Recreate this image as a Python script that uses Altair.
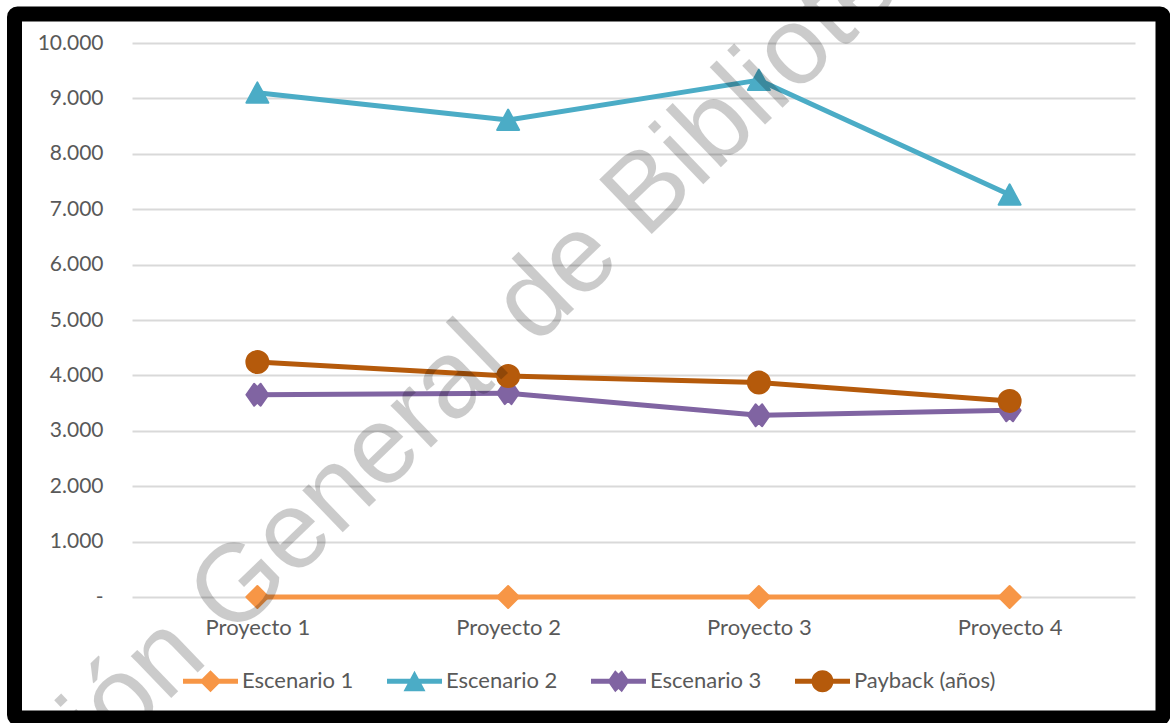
import altair as alt
import pandas as pd

# ---- data ----
projects = ["Proyecto 1", "Proyecto 2", "Proyecto 3", "Proyecto 4"]
series_names = ["Escenario 1", "Escenario 2", "Escenario 3", "Payback (años)"]
escenario_1 = [0, 0, 0, 0]
escenario_2 = [9100, 8610, 9330, 7260]
escenario_3 = [3650, 3680, 3280, 3370]
payback = [4240, 3990, 3870, 3540]
y_ticks = list(range(0, 10001, 1000))
watermark_text = ["Dirección General de Bibliotecas"]

# ---- styles ----
colors = ["#F79646", "#4BACC6", "#8064A2", "#B55A0B"]
marker_paths = [
    "M0,-1L1,0L0,1L-1,0Z",
    "M0,-0.95L1,0.9L-1,0.9Z",
    "M-1,0L-0.3,-1L0,-0.7L0.3,-1L1,0L0.3,1L0,0.7L-0.3,1Z",
    "circle",
]
legend_paths = [
    "M-1,-0.09L1,-0.09L1,0.09L-1,0.09Z M0,-0.4L0.4,0L0,0.4L-0.4,0Z",
    "M-1,-0.09L1,-0.09L1,0.09L-1,0.09Z M0,-0.38L0.4,0.36L-0.4,0.36Z",
    "M-1,-0.09L1,-0.09L1,0.09L-1,0.09Z M-0.4,0L-0.12,-0.4L0,-0.28L0.12,-0.4L0.4,0L0.12,0.4L0,0.28L-0.12,0.4Z",
    "M-1,-0.09L1,-0.09L1,0.09L-1,0.09Z M-0.4,0A0.4,0.4 0 1,1 0.4,0A0.4,0.4 0 1,1 -0.4,0Z",
]
FONT = "Lato"
TEXT_COLOR = "#595959"

all_values = [escenario_1, escenario_2, escenario_3, payback]
rows = []
for name, vals in zip(series_names, all_values):
    for p, v in zip(projects, vals):
        rows.append({"proyecto": p, "serie": name, "valor": v})
df = pd.DataFrame(rows)

x_enc = alt.X(
    "proyecto:N",
    sort=projects,
    scale=alt.Scale(type="point", padding=0.5),
    axis=alt.Axis(
        title=None, labelAngle=0, ticks=False, domain=False, grid=False,
        labelFont=FONT, labelFontSize=22, labelColor=TEXT_COLOR, labelPadding=20,
    ),
)
y_enc = alt.Y(
    "valor:Q",
    scale=alt.Scale(domain=[0, 10000], nice=False),
    axis=alt.Axis(
        title=None, values=y_ticks, ticks=False, domain=False,
        grid=True, gridColor="#d9d9d9", gridWidth=1.8,
        labelFont=FONT, labelFontSize=21, labelColor=TEXT_COLOR, labelPadding=29,
        labelExpr="datum.value == 0 ? '-\u00a0\u00a0' : replace(format(datum.value, ',.0f'), ',', '.')",
    ),
)
color_scale = alt.Scale(domain=series_names, range=colors)

base = alt.Chart(df)

# frame
frame = alt.Chart(pd.DataFrame({"k": [0]})).mark_rect(
    fill="transparent", stroke="black", strokeWidth=15, cornerRadius=3
).encode(
    x=alt.value(14.5 - 132), x2=alt.value(1163 - 132),
    y=alt.value(14 - 43), y2=alt.value(718 - 43),
)

line_layers = []
point_layers = []
for name, col, path in zip(series_names, colors, marker_paths):
    sub = base.transform_filter(alt.datum.serie == name)
    line_layers.append(
        sub.mark_line(strokeWidth=5, strokeJoin="round", color=col).encode(x=x_enc, y=y_enc)
    )
    point_layers.append(
        sub.mark_point(
            shape=path, filled=True, color=col, stroke=col, strokeWidth=2,
            strokeJoin="round", size=484, opacity=1,
        ).encode(x=x_enc, y=y_enc)
    )

legend_props = dict(
    title=None, orient="none", direction="horizontal",
    legendX=51, legendY=610.5, padding=0, offset=0,
    symbolSize=3025, symbolStrokeWidth=0, symbolOpacity=1,
    labelFont=FONT, labelFontSize=22, labelColor=TEXT_COLOR,
    labelOffset=4, columnPadding=33,
)
# legend carrier: draws nothing (empty after filter), only provides the legend
legend_layer = base.transform_filter(alt.datum.valor < -1).mark_point(filled=True).encode(
    x=x_enc, y=y_enc,
    color=alt.Color("serie:N", scale=color_scale, legend=alt.Legend(**legend_props)),
    shape=alt.Shape(
        "serie:N",
        scale=alt.Scale(domain=series_names, range=legend_paths),
        legend=alt.Legend(**legend_props),
    ),
)

watermark = alt.Chart(pd.DataFrame({"t": watermark_text})).mark_text(
    font="Liberation Sans", fontSize=110, angle=316, align="center",
    baseline="alphabetic", color="black", opacity=0.2,
).encode(x=alt.value(322), y=alt.value(382), text="t:N")

chart = alt.layer(frame, *line_layers, *point_layers, legend_layer, watermark).properties(
    width=1003, height=554,
    autosize=alt.AutoSizeParams(type="none"),
    padding={"left": 132, "top": 43, "right": 35, "bottom": 126},
    background="white",
).configure_view(stroke=None)

chart.save("out.html", embed_options={"renderer": "svg", "actions": False})
